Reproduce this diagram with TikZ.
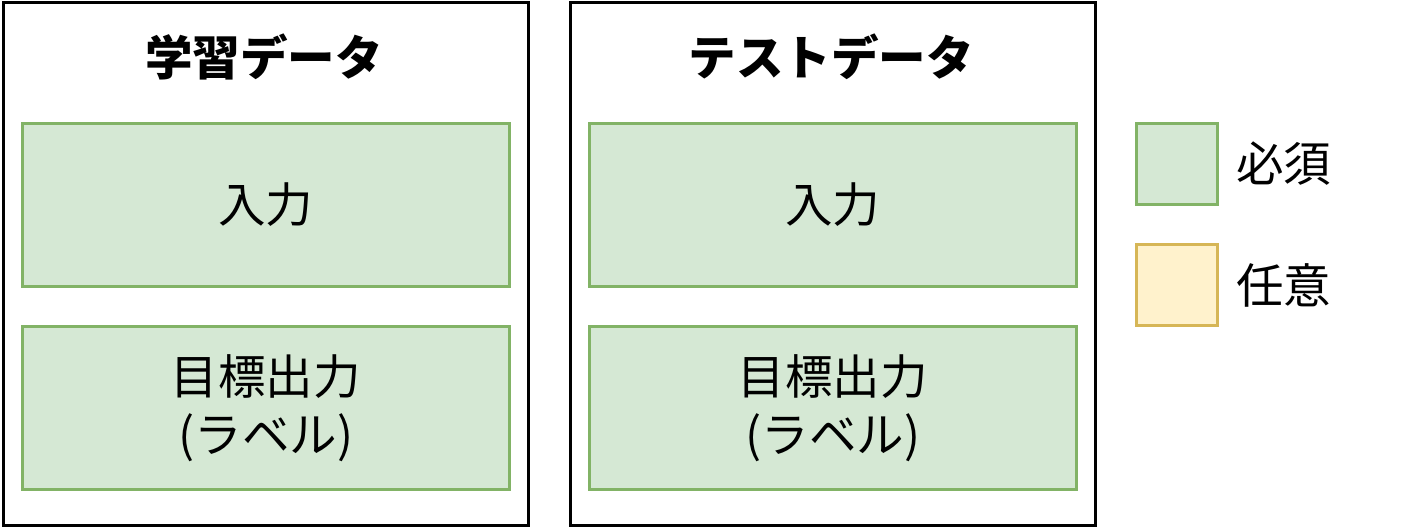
\documentclass[tikz,border=0pt]{standalone}
\usepackage{fontspec}
\setmainfont{Noto Sans CJK JP}
\definecolor{gfill}{HTML}{D5E8D4}
\definecolor{gdraw}{HTML}{82B366}
\definecolor{yfill}{HTML}{FFF2CC}
\definecolor{ydraw}{HTML}{D6B656}
\begin{document}
\begin{tikzpicture}[x=1pt,y=-1pt,
  outerbox/.style={draw=black,line width=3pt,fill=white,minimum width=525pt,minimum height=523pt,inner sep=0pt},
  inbox/.style={draw=gdraw,fill=gfill,line width=3pt,minimum width=487pt,minimum height=163pt,inner sep=0pt,align=center,font=\fontsize{47.5}{58}\selectfont},
  title/.style={font=\fontsize{47.5}{52}\selectfont\bfseries,inner sep=0pt},
  legbox/.style={line width=3pt,minimum width=81pt,minimum height=81pt,inner sep=0pt},
  legtext/.style={font=\fontsize{47.5}{52}\selectfont,inner sep=0pt,anchor=west}]
\useasboundingbox (0,0) rectangle (1420,528);
\fill[white] (0,0) rectangle (1420,528);
% left
\node[outerbox] (L) at (265.5,264) {};
\node[title] (Lt) at (264,57) {学習データ};
\node[inbox] (Li) at (265.75,204.5) {入力};
\node[inbox] (Lo) at (265.75,408) {目標出力\\(ラベル)};
% right
\node[outerbox] (R) at (832.5,264) {};
\node[title] (Rt) at (831,57) {テストデータ};
\node[inbox] (Ri) at (832.75,204.5) {入力};
\node[inbox] (Ro) at (832.75,408) {目標出力\\(ラベル)};
% legend
\node[legbox,draw=gdraw,fill=gfill] (G) at (1176.5,163.5) {};
\node[legtext] (Gt) at (1236,163.5) {必須};
\node[legbox,draw=ydraw,fill=yfill] (Y) at (1176.5,285) {};
\node[legtext] (Yt) at (1236,285) {任意};
\end{tikzpicture}
\end{document}
